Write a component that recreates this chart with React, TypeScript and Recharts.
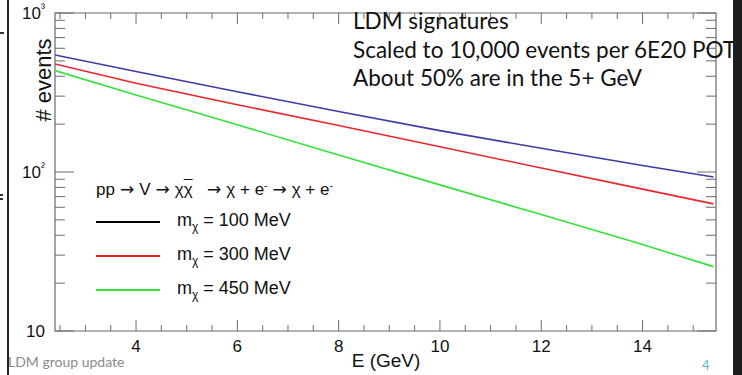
import { LineChart, Line, XAxis, YAxis, ReferenceArea } from "recharts";

// energy samples (GeV) and event counts for each dark-matter mass
const ENERGY = [2.4, 4, 6, 8, 10, 12, 14, 15.4];
const EVENTS_100 = [545, 429, 320, 240, 182, 141, 110, 93];
const EVENTS_300 = [478, 362, 265, 196, 144, 106, 78, 63];
const EVENTS_450 = [434, 305, 198, 128, 83, 54, 35, 25.4];

const X_TICKS = [2.5, 3, 3.5, 4, 4.5, 5, 5.5, 6, 6.5, 7, 7.5, 8, 8.5, 9, 9.5, 10, 10.5, 11, 11.5, 12, 12.5, 13, 13.5, 14, 14.5, 15];
const Y_TICKS = [10, 20, 30, 40, 50, 60, 70, 80, 90, 100, 200, 300, 400, 500, 600, 700, 800, 900, 1000];
const Y_LABELS: Record<number, string> = { 10: "10", 100: "10²", 1000: "10³" };

const LEGEND_LABELS = ["100 MeV", "300 MeV", "450 MeV"];
const LEGEND_COLORS = ["#000000", "#e8262c", "#36e03a"];
const LINE_COLORS = ["#3c3ca6", "#e8262c", "#36e03a"];

const NOTES = ["LDM signatures", "Scaled to 10,000 events per 6E20 POT", "About 50% are in the 5+ GeV"];

const data = ENERGY.map((e, i) => ({
    e,
    m100: EVENTS_100[i],
    m300: EVENTS_300[i],
    m450: EVENTS_450[i],
}));

const W = 742;
const H = 375;
// the axes take 1px each, so the plot box is 55..716 x 13..331
const M = { top: 13, right: 26, bottom: 43, left: 54 };
const PLOT_W = 661;
const PLOT_H = 318;
const AXIS = "#6b6b6b";
const SANS = "'Liberation Sans', Arial, sans-serif";

function XTick(props: any) {
    const { x, y, payload } = props;
    const major = payload.value % 2 === 0;
    const len = major ? 11 : 6;
    return (
        <g>
            <line x1={x} y1={y} x2={x} y2={y - len} stroke={AXIS} strokeWidth={1} />
            <line x1={x} y1={y - PLOT_H} x2={x} y2={y - PLOT_H + len} stroke={AXIS} strokeWidth={1} />
            {major && (
                <text x={x} y={y + 21} textAnchor="middle" fontSize={17} fontFamily={SANS} fill="#111">
                    {payload.value}
                </text>
            )}
        </g>
    );
}

function YTick(props: any) {
    const { x, y, payload } = props;
    const label = Y_LABELS[payload.value];
    const len = label ? 19 : 10;
    return (
        <g>
            <line x1={x} y1={y} x2={x + len} y2={y} stroke={AXIS} strokeWidth={1} />
            <line x1={x + PLOT_W} y1={y} x2={x + PLOT_W - len} y2={y} stroke={AXIS} strokeWidth={1} />
            {label && (
                <text x={x - 10} y={y + 6} textAnchor="end" fontSize={17} fontFamily={SANS} fill="#111">
                    {label.slice(0, 2)}
                    {label.length > 2 && (
                        <tspan dy={-7} fontSize={12}>{label.slice(2)}</tspan>
                    )}
                </text>
            )}
        </g>
    );
}

const Arrow = () => <span style={{ fontFamily: "'DejaVu Sans', sans-serif", fontSize: 17, margin: "0 5px" }}>→</span>;

function LegendBox() {
    const sup = { fontSize: 10, verticalAlign: "top", lineHeight: "14px" } as const;
    return (
        <div style={{ position: "absolute", left: 96, top: 179, fontFamily: SANS, color: "#111" }}>
            <div style={{ fontSize: 17, height: 25, whiteSpace: "nowrap" }}>
                pp<Arrow />V<Arrow />χ<span style={{ textDecoration: "overline" }}>χ</span>&nbsp;&nbsp;<Arrow />χ + e<span style={sup}>-</span><Arrow />χ + e<span style={sup}>-</span>
            </div>
            {LEGEND_LABELS.map((lab, i) => (
                <div key={lab} style={{ display: "flex", alignItems: "center", height: 34, marginTop: i === 0 ? 1 : 0 }}>
                    <div style={{ width: 64, height: 2, background: LEGEND_COLORS[i] }} />
                    <div style={{ marginLeft: 17, fontSize: 18, whiteSpace: "nowrap" }}>
                        m<sub style={{ fontSize: 12 }}>χ</sub> = {lab}
                    </div>
                </div>
            ))}
        </div>
    );
}

export default function App() {
    return (
        <div style={{ position: "absolute", left: 0, top: 0, width: W, height: H, background: "#fff", overflow: "hidden" }}>
            <LineChart width={W} height={H} data={data} margin={M}>
                <XAxis
                    dataKey="e"
                    type="number"
                    domain={[2.4, 15.45]}
                    ticks={X_TICKS}
                    interval={0}
                    allowDataOverflow
                    height={1}
                    axisLine={false}
                    tickLine={false}
                    tickSize={0}
                    tickMargin={0}
                    tick={(p: any) => <XTick {...p} />}
                />
                <YAxis
                    type="number"
                    scale="log"
                    domain={[10, 1000]}
                    ticks={Y_TICKS}
                    interval={0}
                    allowDataOverflow
                    width={1}
                    axisLine={false}
                    tickLine={false}
                    tickSize={0}
                    tickMargin={0}
                    tick={(p: any) => <YTick {...p} />}
                />
                <ReferenceArea x1={2.4} x2={15.45} y1={10} y2={1000} fill="none" stroke={AXIS} strokeWidth={1.2} />
                <Line dataKey="m100" type="linear" stroke={LINE_COLORS[0]} strokeWidth={1.6} dot={false} isAnimationActive={false} />
                <Line dataKey="m300" type="linear" stroke={LINE_COLORS[1]} strokeWidth={1.6} dot={false} isAnimationActive={false} />
                <Line dataKey="m450" type="linear" stroke={LINE_COLORS[2]} strokeWidth={1.6} dot={false} isAnimationActive={false} />
            </LineChart>

            <LegendBox />

            {/* axis titles */}
            <div style={{ position: "absolute", left: 44, top: 80, transform: "translate(-50%, -50%) rotate(-90deg)", fontFamily: SANS, fontSize: 22, whiteSpace: "nowrap", color: "#111" }}>
                # events
            </div>
            <div style={{ position: "absolute", left: 386, top: 361, transform: "translate(-50%, -50%)", fontFamily: SANS, fontSize: 19, color: "#111" }}>
                E (GeV)
            </div>

            {/* slide notes */}
            <div style={{ position: "absolute", left: 353, top: 7, fontFamily: "Lato, 'Open Sans', sans-serif", fontSize: 22.5, lineHeight: "28.5px", color: "#111", whiteSpace: "nowrap" }}>
                {NOTES.map((n) => (
                    <div key={n}>{n}</div>
                ))}
            </div>

            <div style={{ position: "absolute", left: 8, top: 353, fontFamily: "Lato, sans-serif", fontSize: 14, color: "#8a8a8a" }}>
                LDM group update
            </div>
            <div style={{ position: "absolute", left: 702, top: 357, fontFamily: "Lato, sans-serif", fontSize: 13, color: "#5ab4dc" }}>
                4
            </div>

            {/* slide edges */}
            <div style={{ position: "absolute", left: 7, top: 0, width: 2, height: H, background: "#222" }} />
            <div style={{ position: "absolute", left: 0, top: 32, width: 4, height: 2, background: "#333" }} />
            <div style={{ position: "absolute", left: 0, top: 194, width: 3, height: 1.5, background: "#333" }} />
            <div style={{ position: "absolute", left: 0, top: 198, width: 3, height: 1.5, background: "#333" }} />
            <div style={{ position: "absolute", left: 733, top: 0, width: 9, height: H, background: "#1e1e1e" }} />
        </div>
    );
}
